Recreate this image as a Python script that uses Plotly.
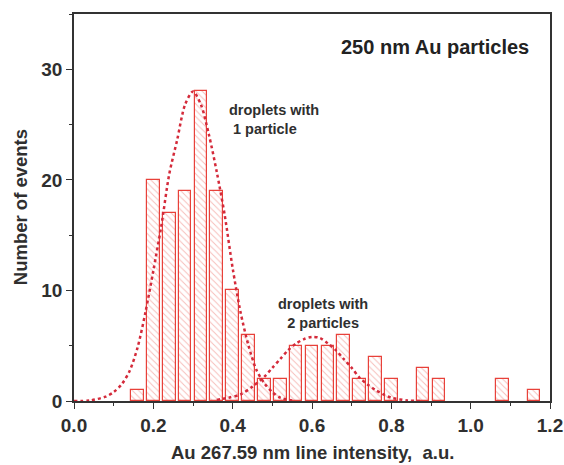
import plotly.graph_objects as go

# Histogram bars (bin centres, counts)
bin_centers = [0.16, 0.20, 0.24, 0.28, 0.32, 0.36, 0.40, 0.44, 0.48, 0.52, 0.56,
               0.60, 0.64, 0.68, 0.72, 0.76, 0.80, 0.88, 0.92, 1.08, 1.16]
counts = [1, 20, 17, 19, 28, 19, 10, 6, 2, 2, 5, 5, 5, 6, 2, 4, 2, 3, 2, 2, 1]

# Dotted fit curve: droplets with 1 particle
fit1_x = [0.00, 0.04, 0.08, 0.10, 0.12, 0.14, 0.16, 0.18, 0.20, 0.22, 0.24, 0.26,
          0.28, 0.30, 0.32, 0.34, 0.36, 0.38, 0.40, 0.42, 0.44, 0.46, 0.48, 0.50,
          0.52, 0.55]
fit1_y = [0.0, 0.05, 0.4, 0.8, 1.5, 2.7, 4.8, 8.0, 11.8, 15.8, 20.5, 23.6,
          26.8, 28.0, 26.8, 24.1, 20.7, 16.8, 12.0, 8.0, 5.0, 2.8, 1.6, 0.8,
          0.3, 0.05]

# Dotted fit curve: droplets with 2 particles
fit2_x = [0.36, 0.39, 0.42, 0.45, 0.48, 0.50, 0.52, 0.54, 0.56, 0.58, 0.60, 0.62,
          0.64, 0.66, 0.68, 0.70, 0.72, 0.74, 0.76, 0.78, 0.80, 0.84, 0.88]
fit2_y = [0.1, 0.3, 0.6, 1.3, 2.2, 3.0, 3.8, 4.6, 5.2, 5.6, 5.8, 5.7,
          5.2, 4.6, 3.8, 3.0, 2.1, 1.5, 1.0, 0.6, 0.3, 0.05, 0.0]

x_ticks = [0.0, 0.2, 0.4, 0.6, 0.8, 1.0, 1.2]
x_ticklabels = ["0.0", "0.2", "0.4", "0.6", "0.8", "1.0", "1.2"]
y_ticks = [0, 10, 20, 30]

x_title = "Au 267.59 nm line intensity,  a.u."
y_title = "Number of events"

RED = "#e8413a"
DOT = "#d42a3a"
TXT = "#2f2f2f"
FONT = "Liberation Sans, Arial, sans-serif"

fig = go.Figure()
fig.add_trace(go.Bar(
    x=bin_centers, y=counts, width=0.032,
    marker=dict(color="white",
                line=dict(color=RED, width=1.2),
                pattern=dict(shape="\\", fgcolor="#ee7d76", bgcolor="white",
                             size=4.5, solidity=0.22)),
    showlegend=False,
))
for xs, ys in [(fit1_x, fit1_y), (fit2_x, fit2_y)]:
    fig.add_trace(go.Scatter(
        x=xs, y=ys, mode="lines",
        line=dict(color=DOT, width=2.5, dash="dot", shape="spline", smoothing=0.8),
        showlegend=False, hoverinfo="skip",
    ))

axis_common = dict(
    showline=True, linecolor="#333333", linewidth=1.5, mirror=True,
    ticks="outside", ticklen=6, tickwidth=1.3, tickcolor="#333333",
    showgrid=False, zeroline=False, automargin=False,
    tickfont=dict(family=FONT, size=19, color=TXT),
)

fig.update_layout(
    width=564, height=465,
    margin=dict(l=74, r=14, t=14, b=64),
    paper_bgcolor="white", plot_bgcolor="white",
    bargap=0,
    font=dict(family=FONT, color=TXT),
    xaxis=dict(range=[0, 1.2], tickvals=x_ticks, ticktext=[f"<b>{t}</b>" for t in x_ticklabels],
               minor=dict(dtick=0.1, ticks="outside", ticklen=3, tickwidth=1.2, tickcolor="#333333"),
               **axis_common),
    yaxis=dict(range=[0, 35], tickvals=y_ticks, ticktext=[f"<b>{t}</b>" for t in y_ticks],
               minor=dict(dtick=5, ticks="outside", ticklen=3, tickwidth=1.2, tickcolor="#333333"),
               **axis_common),
    annotations=[
        dict(text=f"<b>{x_title}</b>", x=0.5, y=-0.132, xref="paper", yref="paper",
             xanchor="center", yanchor="middle", showarrow=False,
             font=dict(family=FONT, size=18.5, color=TXT)),
        dict(text=f"<b>{y_title}</b>", x=-0.112, y=0.5, xref="paper", yref="paper",
             xanchor="center", yanchor="middle", textangle=-90, showarrow=False,
             font=dict(family=FONT, size=18.5, color=TXT)),
        dict(text="<b>250 nm Au particles</b>", x=0.909, y=32.0, xref="x", yref="y",
             showarrow=False, font=dict(family=FONT, size=20, color="#222222")),
        dict(text="<b>droplets with<br> 1 particle</b>", x=0.386, y=25.5, xref="x", yref="y",
             xanchor="left", align="left", showarrow=False,
             font=dict(family=FONT, size=14.5, color=TXT)),
        dict(text="<b>droplets with<br>2 particles</b>", x=0.627, y=7.9, xref="x", yref="y",
             xanchor="center", align="center", showarrow=False,
             font=dict(family=FONT, size=14.5, color=TXT)),
    ],
)

fig.write_html("out.html")
